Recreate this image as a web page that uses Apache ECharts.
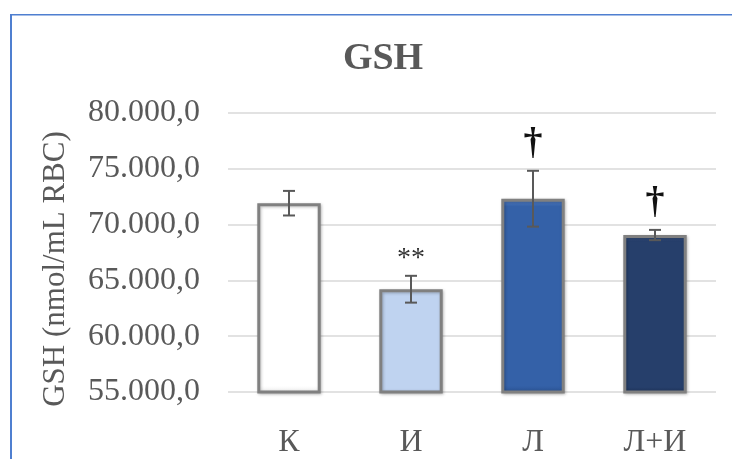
<!DOCTYPE html>
<html>
<head>
<meta charset="utf-8">
<script src="https://cdn.jsdelivr.net/npm/echarts@6/dist/echarts.min.js"></script>
<style>
html,body{margin:0;padding:0;background:#fff;}
#main{width:732px;height:459px;}
</style>
</head>
<body>
<div id="main"></div>
<script>
var categories = ['К', 'И', 'Л', 'Л+И'];
var means = [71900, 64200, 72300, 69050];
var errors = [1100, 1200, 2500, 460];
var marks = ['', '**', '†', '†'];
var yMin = 55000, yMax = 80000, yInterval = 5000;
var axisTitle = 'GSH (nmol/mL RBC)';
var barColors = [
  ['#ffffff', '#ffffff', '#ececec'],
  ['#d6e3f6', '#bfd3f0', '#a9bfe0'],
  ['#5a88d2', '#3461a8', '#2a5292'],
  ['#3d5a8c', '#263f6b', '#1e3358']
];

var FONT = "'Liberation Serif', 'Times New Roman', serif";
var GRAY = '#595959';

function fmt(v) {
  return Math.round(v).toString().replace(/\B(?=(\d{3})+(?!\d))/g, '.') + ',0';
}

var barData = means.map(function (m, i) {
  var c = barColors[i];
  return {
    value: m,
    itemStyle: {
      color: {
        type: 'linear', x: 0, y: 0, x2: 0, y2: 1,
        colorStops: [
          {offset: 0, color: c[0]},
          {offset: 0.04, color: c[1]},
          {offset: 0.96, color: c[1]},
          {offset: 1, color: c[2]}
        ]
      }
    }
  };
});

var errData = means.map(function (m, i) { return [i, m - errors[i], m + errors[i], i]; });

var chart = echarts.init(document.getElementById('main'), null, {renderer: 'canvas'});
chart.setOption({
  animation: false,
  backgroundColor: '#ffffff',
  title: {
    text: 'GSH',
    left: 378,
    textAlign: 'center',
    top: 35,
    textStyle: {fontFamily: FONT, fontSize: 38, fontWeight: 'bold', color: GRAY}
  },
  graphic: [
    {type: 'rect', shape: {x: 10, y: 14, width: 2, height: 445}, style: {fill: '#4f7fd0'}, silent: true},
    {type: 'rect', shape: {x: 10, y: 14, width: 722, height: 1.5}, style: {fill: '#4f7fd0'}, silent: true},
    {type: 'text', x: 56, y: 269, rotation: Math.PI / 2, silent: true,
      style: {text: axisTitle, align: 'center', verticalAlign: 'middle', fill: GRAY, font: '31px ' + FONT}}
  ],
  grid: {left: 228, right: 16, top: 112.7, bottom: 65.5, containLabel: false},
  xAxis: {
    type: 'category',
    data: categories,
    axisLine: {show: false},
    axisTick: {show: false},
    axisLabel: {fontFamily: FONT, fontSize: 32, color: GRAY, margin: 35}
  },
  yAxis: {
    type: 'value',
    min: yMin, max: yMax, interval: yInterval,
    axisLine: {show: false},
    axisTick: {show: false},
    axisLabel: {fontFamily: FONT, fontSize: 32, color: GRAY, margin: 28, formatter: fmt},
    splitLine: {lineStyle: {color: '#d9d9d9', width: 1.5}}
  },
  series: [
    {
      type: 'bar',
      data: barData,
      barWidth: '52%',
      itemStyle: {borderColor: '#808080', borderWidth: 3, shadowColor: 'rgba(0,0,0,0.25)', shadowBlur: 3, shadowOffsetX: 1, shadowOffsetY: 1},
      z: 2
    },
    {
      type: 'custom',
      data: errData,
      z: 5,
      renderItem: function (params, api) {
        var x = api.value(0);
        var lo = api.coord([x, api.value(1)]);
        var hi = api.coord([x, api.value(2)]);
        var cx = lo[0];
        var hw = 6;
        var idx = api.value(3);
        var st = {stroke: GRAY, lineWidth: 2};
        var children = [
          {type: 'line', shape: {x1: cx, y1: lo[1], x2: cx, y2: hi[1]}, style: st},
          {type: 'line', shape: {x1: cx - hw, y1: lo[1], x2: cx + hw, y2: lo[1]}, style: st},
          {type: 'line', shape: {x1: cx - hw, y1: hi[1], x2: cx + hw, y2: hi[1]}, style: st}
        ];
        var mk = marks[idx];
        if (mk) {
          var isStar = mk.indexOf('*') >= 0;
          children.push({
            type: 'text',
            style: {
              text: mk,
              x: cx,
              y: hi[1] - (isStar ? 3 : 8),
              align: 'center',
              verticalAlign: 'bottom',
              fill: isStar ? '#333333' : '#111111',
              font: (isStar ? '28px ' : 'bold 38px ') + FONT
            }
          });
        }
        return {type: 'group', children: children};
      }
    }
  ]
});
</script>
</body>
</html>
